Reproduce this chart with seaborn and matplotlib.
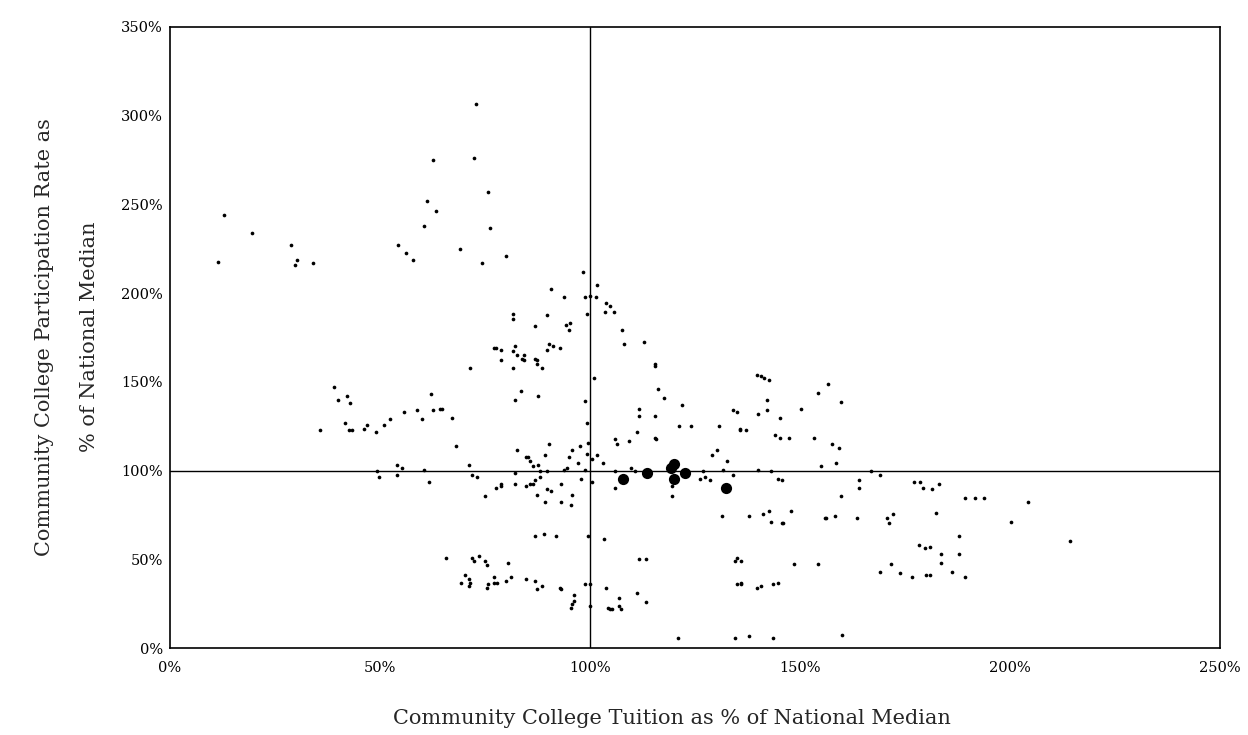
import matplotlib
matplotlib.use("Agg")
import matplotlib.pyplot as plt
import seaborn as sns
import pandas as pd
from matplotlib.ticker import FuncFormatter

# Tuition (% of national median) and participation rate (% of national median)
tuition_pct = [
    62.6, 61.3, 60.5, 54.4, 56.2, 57.9, 12.8, 19.5, 11.5, 28.9, 30.2, 29.8, 34.0,
    72.8, 72.3, 75.8, 63.4, 76.2, 69.0, 80.0, 74.4, 98.3, 90.7, 101.7, 93.7, 98.7,
    100.1, 101.4, 103.9, 104.8,
    39.1, 40.0, 42.1, 42.9, 35.7, 41.7, 42.5, 43.3, 46.3, 46.8, 49.0, 51.0, 52.3,
    55.7, 58.7, 60.0, 62.1, 62.6, 49.4, 49.8, 54.0, 55.3, 54.0, 60.5, 61.7,
    103.5, 105.6, 99.3, 81.7, 81.7, 89.8, 86.9, 94.4, 95.3, 94.9, 107.7, 108.2, 112.9,
    77.1, 77.5, 78.7, 78.7, 82.1, 81.7, 82.5, 84.3, 83.9, 84.3, 86.9, 87.3, 87.3,
    88.6, 90.2, 89.8, 91.1, 92.9, 81.7, 71.5, 115.4, 115.4, 100.9, 83.5, 82.1, 87.7,
    64.3, 64.8, 67.2, 116.2, 117.5, 98.7, 111.6, 111.6, 115.4, 121.8, 99.3, 121.3,
    124.0, 111.1, 115.4, 115.8, 106.0, 106.5, 109.4, 68.1, 90.2, 82.6, 95.8, 97.5,
    99.6, 99.2, 101.7, 100.5, 103.0, 94.9, 97.1, 89.4, 84.8, 85.2, 85.6, 86.4, 87.7,
    88.1, 89.8, 94.5, 93.7, 98.7, 71.1, 82.1, 71.9, 73.2, 78.7, 82.1, 85.6, 86.4,
    86.9, 88.1, 93.2, 97.9, 100.4, 106.0, 109.8, 110.7,
    77.5, 78.7, 84.8, 74.9, 87.3, 89.8, 90.7, 89.4, 93.2, 95.8, 95.4, 106.0, 119.6,
    119.6, 86.9, 89.0, 92.0, 99.6, 103.4, 65.6, 71.9, 72.4, 73.6, 74.9, 75.4, 80.4,
    111.6, 113.3, 70.2, 71.1, 71.5, 69.4, 71.1, 77.1, 77.1, 77.9, 75.8, 75.4, 80.0,
    81.3, 84.7, 86.8, 87.3, 88.6, 92.9, 93.2, 96.2, 96.2, 95.8, 95.4, 98.7, 100.1,
    100.1, 103.9, 106.9, 104.4, 104.8, 105.2, 106.9, 107.3, 111.1, 113.3, 121.0,
    130.7, 134.1, 135.0, 135.8, 135.8, 137.1, 139.7, 140.6, 141.4, 142.7, 142.2,
    142.2, 140.1, 145.2, 144.0, 145.2, 147.3, 150.3, 154.2, 156.7, 159.8, 153.3,
    157.6, 159.3, 158.5, 155.0, 129.0, 130.3, 132.5, 131.6, 126.9, 140.1, 143.1,
    134.0, 126.1, 127.4, 128.6, 144.8, 145.6, 167.0, 169.0, 164.0, 177.2, 178.5, 183.1,
    164.0, 159.8, 179.3, 181.4, 131.5, 137.9, 141.3, 142.6, 143.1, 145.6, 146.0,
    147.8, 155.9, 156.3, 158.4, 163.6, 170.8, 172.1, 171.2, 182.3, 178.4, 179.7,
    181.0, 183.6, 183.6, 186.1, 169.0, 171.6, 173.7, 176.7, 180.1, 181.0, 134.6,
    135.0, 135.9, 135.0, 135.9, 135.9, 139.7, 140.6, 143.5, 144.8, 148.6, 154.2,
    134.6, 137.9, 143.5, 160.1,
    189.4, 191.6, 193.7, 204.4, 200.2, 187.8, 187.8, 189.4, 214.2,
]
participation_pct = [
    275.3, 252.2, 237.9, 226.9, 222.8, 218.8, 244.1, 234.1, 217.7, 226.9, 218.8, 215.8, 216.8,
    306.6, 276.4, 257.1, 246.2, 236.9, 224.9, 220.7, 216.8, 211.7, 202.6, 204.7, 197.6, 197.6,
    198.5, 197.6, 194.5, 192.5,
    147.1, 139.9, 142.0, 137.9, 122.8, 126.7, 122.8, 122.8, 123.7, 125.8, 121.6, 125.8, 128.8,
    132.8, 133.9, 128.8, 142.9, 133.9, 99.6, 96.4, 103.4, 101.5, 97.3, 100.6, 93.4,
    189.6, 189.6, 188.5, 188.5, 185.3, 187.4, 181.4, 182.3, 183.4, 179.3, 179.5, 171.2, 172.3,
    169.3, 169.3, 168.2, 162.1, 170.2, 167.2, 165.1, 165.1, 163.1, 162.1, 163.1, 162.1, 160.1,
    158.0, 171.2, 168.2, 170.2, 169.3, 158.0, 158.0, 160.1, 159.1, 152.2, 145.0, 139.9, 142.0,
    134.8, 134.8, 129.8, 145.9, 140.8, 139.0, 134.8, 130.7, 130.7, 136.9, 126.7, 124.9,
    124.9, 121.6, 118.6, 117.7, 117.7, 114.7, 116.6, 113.6, 114.7, 111.5, 111.5, 113.6,
    115.6, 109.6, 108.5, 106.6, 104.5, 107.5, 104.5, 108.5, 107.5, 107.5, 105.5, 102.4, 103.4,
    99.6, 99.6, 101.5, 100.6, 100.6, 103.4, 98.5, 97.6, 96.4, 92.7, 92.7, 92.7, 92.7,
    94.5, 96.4, 92.7, 95.5, 93.4, 99.6, 101.5, 99.6,
    90.4, 91.5, 91.5, 85.5, 86.4, 89.4, 88.5, 82.5, 82.5, 86.4, 80.4, 90.4, 91.5,
    85.5, 63.3, 64.2, 63.3, 63.3, 61.2, 51.0, 51.0, 49.0, 52.0, 49.0, 46.9, 48.0,
    49.9, 49.9, 40.9, 39.0, 36.9, 36.9, 34.8, 40.0, 36.9, 36.9, 35.9, 33.9, 37.9,
    40.0, 39.0, 37.9, 33.0, 34.8, 33.9, 33.0, 29.8, 26.7, 24.9, 22.8, 36.0, 36.0,
    23.7, 33.9, 27.9, 22.8, 21.8, 21.8, 23.7, 21.8, 30.9, 25.8, 5.6,
    124.9, 133.9, 132.8, 123.7, 122.8, 122.8, 154.1, 153.1, 152.2, 151.0, 139.9,
    133.9, 131.8, 129.8, 119.8, 118.6, 118.6, 134.8, 143.9, 148.9, 138.8, 118.6,
    114.7, 112.6, 104.5, 102.4, 108.5, 111.5, 105.5, 100.6, 99.6, 100.6, 99.6,
    97.6, 95.5, 96.4, 94.5, 95.5, 94.5, 99.6, 97.6, 94.5, 93.4, 93.4, 92.7,
    90.4, 85.5, 90.4, 89.4, 74.2, 74.2, 75.3, 77.2, 71.2, 70.2, 70.2,
    77.2, 73.3, 73.3, 74.2, 73.3, 73.3, 75.3, 70.2, 76.3, 58.2, 56.1,
    57.1, 53.1, 48.0, 42.9, 42.9, 47.1, 42.0, 40.0, 41.1, 41.1, 49.0,
    51.0, 49.0, 36.0, 36.9, 36.0, 33.9, 34.8, 36.0, 36.9, 47.1, 47.1,
    5.6, 6.6, 5.6, 7.5,
    84.4, 84.4, 84.4, 82.3, 71.2, 63.3, 53.1, 40.0, 60.1,
]

# Highlighted institutions (large markers)
highlight_tuition = [107.8, 113.6, 120.1, 119.2, 120.1, 122.6, 132.4]
highlight_participation = [95.5, 98.5, 103.6, 101.5, 95.5, 98.5, 90.4]

x_ticks = [0, 50, 100, 150, 200, 250]
y_ticks = [0, 50, 100, 150, 200, 250, 300, 350]

df = pd.DataFrame({"tuition": tuition_pct, "participation": participation_pct})
df_hi = pd.DataFrame({"tuition": highlight_tuition, "participation": highlight_participation})

sns.set_theme(style="white")
serif = ["DejaVu Serif"]
plt.rcParams["font.family"] = serif

fig = plt.figure(figsize=(12.48, 7.35), dpi=100)
ax = fig.add_axes([170 / 1248, 1 - 648 / 735, 1050 / 1248, 621 / 735])

ax.axvline(100, color="black", lw=1.0, zorder=1)
ax.axhline(100, color="black", lw=1.0, zorder=1)

sns.scatterplot(data=df, x="tuition", y="participation", ax=ax, s=7,
                color="black", edgecolor="black", linewidth=0, zorder=3, legend=False)
sns.scatterplot(data=df_hi, x="tuition", y="participation", ax=ax, s=65,
                color="black", edgecolor="black", linewidth=0, zorder=4, legend=False)

ax.set_xlim(0, 250)
ax.set_ylim(0, 350)
ax.set_xticks(x_ticks)
ax.set_yticks(y_ticks)
pct = FuncFormatter(lambda v, p: f"{int(round(v))}%")
ax.xaxis.set_major_formatter(pct)
ax.yaxis.set_major_formatter(pct)
ax.tick_params(axis="both", labelsize=10.5, colors="black", length=0)
ax.tick_params(axis="x", pad=9)
ax.tick_params(axis="y", pad=5)
for lab in ax.get_xticklabels() + ax.get_yticklabels():
    lab.set_family(serif)
for sp in ax.spines.values():
    sp.set_visible(True)
    sp.set_color("black")
    sp.set_linewidth(1.2)
ax.set_xlabel("")
ax.set_ylabel("")

fig.text(672 / 1248, 1 - 718 / 735, "Community College Tuition as % of National Median",
         ha="center", va="center", fontsize=15, family=serif)
fig.text(45 / 1248, 1 - 337 / 735, "Community College Participation Rate as",
         ha="center", va="center", rotation=90, fontsize=15, family=serif)
fig.text(90 / 1248, 1 - 337 / 735, "% of National Median",
         ha="center", va="center", rotation=90, fontsize=15, family=serif)

fig.savefig("out.png", dpi=100)
